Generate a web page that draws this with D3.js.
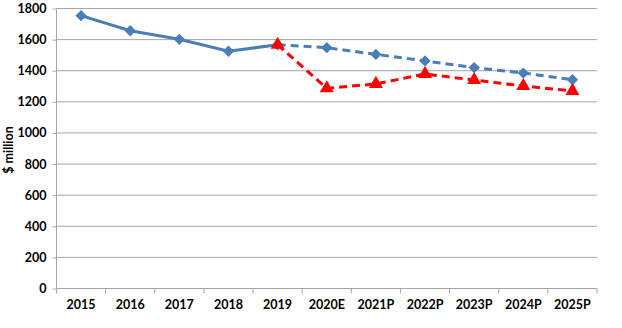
<!DOCTYPE html>
<html><head><meta charset="utf-8">
<script src="https://cdn.jsdelivr.net/npm/d3@7"></script>
<style>body{margin:0;background:#fff}svg{display:block}text{font-family:Lato,"Open Sans",sans-serif;font-weight:bold;fill:#000}</style>
</head><body><svg id="c" width="622" height="328"></svg>
<script>
const categories = ["2015","2016","2017","2018","2019","2020E","2021P","2022P","2023P","2024P","2025P"];
const actualValues = [1754,1657,1602,1525,1567,null,null,null,null,null,null];
const baselineValues = [null,null,null,null,1567,1548,1505,1463,1420,1385,1342];
const covidValues = [null,null,null,null,1567,1287,1315,1379,1340,1302,1270];
const yTicks = [0,200,400,600,800,1000,1200,1400,1600,1800];

const svg = d3.select("#c");
const pL=56.5, pR=597, pT=8.5, pB=288.5;
const x = d3.scaleBand().domain(categories).range([pL,pR]);
const y = d3.scaleLinear().domain([0,1800]).range([pB,pT]);
const cx = d => x(d)+x.bandwidth()/2;
const fs = "12.5px";

// gridlines
svg.append("g").selectAll("line").data(yTicks.filter(t=>t>0)).join("line")
  .attr("x1",pL).attr("x2",pR).attr("y1",d=>y(d)).attr("y2",d=>y(d))
  .attr("stroke","#a6a6a6").attr("stroke-width",1);

// y axis
const ya = svg.append("g").attr("transform",`translate(${pL},0)`)
  .call(d3.axisLeft(y).tickValues(yTicks).tickFormat(d3.format("d")).tickSize(4).tickPadding(6));
ya.select(".domain").attr("stroke","#a6a6a6").attr("d",`M0,${pT}V${pB}`);
ya.selectAll(".tick line").attr("stroke","#a6a6a6");
ya.selectAll("text").style("font-size",fs).attr("font-family",null);

// x axis
const xa = svg.append("g").attr("transform",`translate(0,${pB})`)
  .call(d3.axisBottom(x).tickSize(0).tickPadding(12));
xa.select(".domain").attr("stroke","#a6a6a6").attr("d",`M${pL},0H${pR}`);
xa.selectAll("text").style("font-size",fs).attr("font-family",null);
xa.selectAll(".bt").data(d3.range(categories.length+1)).join("line")
  .attr("x1",i=>pL+i*x.step()).attr("x2",i=>pL+i*x.step()).attr("y1",0).attr("y2",5)
  .attr("stroke","#a6a6a6");

// y title
svg.append("text").attr("transform","translate(12.5,150) rotate(-90)")
  .attr("text-anchor","middle").style("font-size",fs).text("$ million");

const line = d3.line().defined(d=>d.v!=null).x(d=>cx(d.c)).y(d=>y(d.v));
const mk = arr => categories.map((c,i)=>({c,v:arr[i]}));

const blue="#4a7ebb", red="#ff0000";
svg.append("path").datum(mk(covidValues)).attr("d",line).attr("fill","none")
  .attr("stroke",red).attr("stroke-width",3).attr("stroke-dasharray","8,5");
svg.append("path").datum(mk(baselineValues)).attr("d",line).attr("fill","none")
  .attr("stroke",blue).attr("stroke-width",3).attr("stroke-dasharray","8,5");
svg.append("path").datum(mk(actualValues)).attr("d",line).attr("fill","none")
  .attr("stroke",blue).attr("stroke-width",3);

const blueMarks = mk(actualValues).concat(mk(baselineValues).slice(5)).filter(d=>d.v!=null);
svg.append("g").selectAll("path").data(blueMarks).join("path")
  .attr("d",d3.symbol().type(d3.symbolSquare).size(64))
  .attr("transform",d=>`translate(${cx(d.c)},${y(d.v)}) rotate(45)`).attr("fill",blue);
svg.append("g").selectAll("path").data(mk(covidValues).filter(d=>d.v!=null)).join("path")
  .attr("d",d3.symbol().type(d3.symbolTriangle).size(85))
  .attr("transform",d=>`translate(${cx(d.c)},${y(d.v)})`).attr("fill",red);
</script></body></html>
